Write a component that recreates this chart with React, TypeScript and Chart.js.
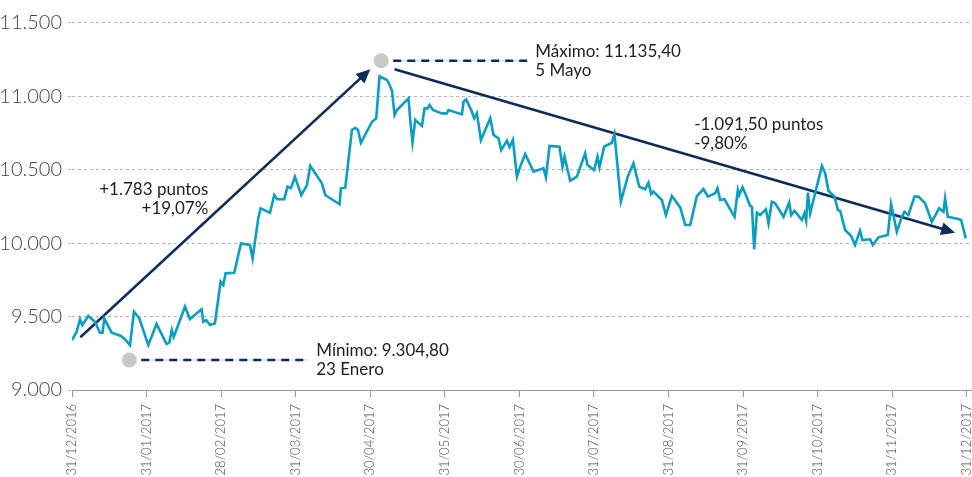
import React, { useEffect, useRef } from "react";
import { Chart, registerables } from "chart.js";

Chart.register(...registerables);

// ---------- DATA ----------
const xTickLabels = [
  "31/12/2016", "31/01/2017", "28/02/2017", "31/03/2017", "30/04/2017", "31/05/2017",
  "30/06/2017", "31/07/2017", "31/08/2017", "31/09/2017", "31/10/2017", "31/11/2017", "31/12/2017",
];
const yTickValues = [9000, 9500, 10000, 10500, 11000, 11500];
const yTickLabels = ["9.000", "9.500", "10.000", "10.500", "11.000", "11.500"];

// position in months since 31/12/2016
const monthPos = [
  0.0, 0.062, 0.107, 0.138, 0.219, 0.308, 0.375, 0.41, 0.433, 0.531,
  0.657, 0.711, 0.778, 0.831, 0.902, 1.023, 1.134, 1.268, 1.305, 1.338,
  1.365, 1.515, 1.582, 1.738, 1.761, 1.8, 1.85, 1.917, 1.993, 2.029,
  2.06, 2.176, 2.266, 2.387, 2.422, 2.498, 2.529, 2.655, 2.713, 2.753,
  2.847, 2.891, 2.936, 2.99, 3.017, 3.075, 3.151, 3.195, 3.262, 3.352,
  3.396, 3.588, 3.607, 3.665, 3.754, 3.799, 3.835, 3.875, 4.023, 4.08,
  4.124, 4.224, 4.254, 4.291, 4.326, 4.358, 4.513, 4.536, 4.567, 4.603,
  4.693, 4.728, 4.768, 4.795, 4.84, 4.961, 5.028, 5.05, 5.229, 5.251,
  5.287, 5.363, 5.394, 5.43, 5.484, 5.609, 5.653, 5.72, 5.756, 5.833,
  5.868, 5.913, 5.967, 6.011, 6.078, 6.189, 6.323, 6.356, 6.404, 6.538,
  6.578, 6.605, 6.681, 6.771, 6.882, 6.913, 7.002, 7.047, 7.074, 7.137,
  7.24, 7.275, 7.361, 7.455, 7.53, 7.607, 7.687, 7.731, 7.768, 7.798,
  7.911, 7.965, 8.045, 8.157, 8.224, 8.291, 8.38, 8.469, 8.528, 8.626,
  8.657, 8.693, 8.75, 8.885, 8.93, 8.948, 8.992, 9.028, 9.095, 9.118,
  9.149, 9.185, 9.229, 9.306, 9.341, 9.386, 9.43, 9.542, 9.618, 9.645,
  9.689, 9.788, 9.823, 9.846, 9.869, 9.9, 10.057, 10.101, 10.145, 10.226,
  10.271, 10.302, 10.369, 10.449, 10.501, 10.568, 10.601, 10.704, 10.74, 10.815,
  10.941, 10.985, 11.062, 11.129, 11.164, 11.217, 11.298, 11.351, 11.441, 11.531,
  11.629, 11.687, 11.709, 11.745, 11.887, 11.924, 11.987,
];

const ibexValues = [
  9340, 9397, 9481, 9442, 9504, 9465, 9390, 9390, 9488, 9390,
  9368, 9345, 9305, 9533, 9488, 9306, 9449, 9313, 9322, 9408,
  9361, 9567, 9483, 9549, 9465, 9476, 9442, 9454, 9737, 9715,
  9794, 9798, 9998, 9987, 9896, 10169, 10237, 10207, 10327, 10298,
  10298, 10384, 10373, 10452, 10411, 10327, 10395, 10525, 10475, 10407,
  10327, 10264, 10373, 10377, 10770, 10785, 10770, 10683, 10826, 10849,
  11135, 11110, 11083, 11037, 10872, 10906, 10985, 10838, 10686, 10838,
  10797, 10917, 10917, 10940, 10906, 10883, 10883, 10906, 10876, 10962,
  10978, 10894, 10849, 10883, 10702, 10849, 10736, 10713, 10633, 10697,
  10652, 10702, 10452, 10520, 10606, 10486, 10509, 10448, 10661, 10656,
  10520, 10588, 10424, 10452, 10611, 10531, 10497, 10588, 10516, 10656,
  10683, 10742, 10282, 10456, 10543, 10384, 10366, 10411, 10334, 10350,
  10293, 10191, 10320, 10243, 10123, 10123, 10320, 10368, 10316, 10339,
  10373, 10293, 10298, 10179, 10361, 10327, 10380, 10339, 10252, 10248,
  9958, 10207, 10191, 10230, 10135, 10282, 10271, 10179, 10275, 10191,
  10220, 10157, 10203, 10152, 10343, 10203, 10525, 10475, 10356, 10316,
  10225, 10220, 10089, 10048, 9987, 10084, 10021, 10026, 9987, 10039,
  10055, 10266, 10077, 10179, 10213, 10191, 10316, 10316, 10271, 10145,
  10237, 10213, 10305, 10179, 10164, 10157, 10032,
];

// ---------- ANNOTATIONS (data coordinates) ----------
const minMarker = { m: 0.768, v: 9204 };
const maxMarker = { m: 4.147, v: 11241 };
const minDashEnd = 3.168;
const maxDashEnd = 6.105;
const minLabel = ["Mínimo: 9.304,80", "23 Enero"];
const maxLabel = ["Máximo: 11.135,40", "5 Mayo"];
const upArrow = { from: [0.112, 9359], to: [4.0, 11183] };
const downArrow = { from: [4.326, 11183], to: [11.843, 10071] };
const upLabel = ["+1.783 puntos", "+19,07%"];
const upLabelAnchor = { m: 1.828, v: 10365 };
const downLabel = ["-1.091,50 puntos", "-9,80%"];
const downLabelAnchor = { m: 8.344, v: 10804 };

const NAVY = "#0c2d5a";
const TEAL = "#0a9ec2";
const FONT = "Lato, 'Open Sans', sans-serif";

function drawArrow(ctx: CanvasRenderingContext2D, x1: number, y1: number, x2: number, y2: number) {
  const ang = Math.atan2(y2 - y1, x2 - x1);
  const headLen = 14;
  const headHalf = 6.5;
  const bx = x2 - headLen * Math.cos(ang);
  const by = y2 - headLen * Math.sin(ang);
  ctx.save();
  ctx.strokeStyle = NAVY;
  ctx.fillStyle = NAVY;
  ctx.lineWidth = 2.6;
  ctx.beginPath();
  ctx.moveTo(x1, y1);
  ctx.lineTo(bx + 2 * Math.cos(ang), by + 2 * Math.sin(ang));
  ctx.stroke();
  ctx.beginPath();
  ctx.moveTo(x2, y2);
  ctx.lineTo(bx + headHalf * Math.sin(ang), by - headHalf * Math.cos(ang));
  ctx.lineTo(bx - headHalf * Math.sin(ang), by + headHalf * Math.cos(ang));
  ctx.closePath();
  ctx.fill();
  ctx.restore();
}

function drawMarker(ctx: CanvasRenderingContext2D, cx: number, cy: number, dashEndX: number, lines: string[]) {
  ctx.save();
  ctx.fillStyle = "#c8c8c8";
  ctx.beginPath();
  ctx.arc(cx, cy, 7.5, 0, Math.PI * 2);
  ctx.fill();
  ctx.strokeStyle = "#d4d4d4";
  ctx.lineWidth = 1;
  ctx.beginPath();
  ctx.moveTo(cx + 12, cy);
  ctx.lineTo(dashEndX, cy);
  ctx.stroke();
  ctx.strokeStyle = NAVY;
  ctx.lineWidth = 2.6;
  ctx.setLineDash([8, 6]);
  ctx.beginPath();
  ctx.moveTo(cx + 12, cy);
  ctx.lineTo(dashEndX, cy);
  ctx.stroke();
  ctx.setLineDash([]);
  ctx.fillStyle = "#1e1e1e";
  ctx.font = `17px ${FONT}`;
  ctx.textAlign = "left";
  ctx.textBaseline = "middle";
  ctx.fillText(lines[0], dashEndX + 8, cy - 9.5);
  ctx.fillText(lines[1], dashEndX + 8, cy + 9.5);
  ctx.restore();
}

const annotationPlugin = {
  id: "ibexAnnotations",
  beforeDatasetsDraw(chart: any) {
    const { ctx, scales } = chart;
    const xs = scales.x;
    const ys = scales.y;
    drawArrow(ctx, xs.getPixelForValue(upArrow.from[0]), ys.getPixelForValue(upArrow.from[1]),
      xs.getPixelForValue(upArrow.to[0]), ys.getPixelForValue(upArrow.to[1]));
    drawArrow(ctx, xs.getPixelForValue(downArrow.from[0]), ys.getPixelForValue(downArrow.from[1]),
      xs.getPixelForValue(downArrow.to[0]), ys.getPixelForValue(downArrow.to[1]));
  },
  afterDatasetsDraw(chart: any) {
    const { ctx, scales } = chart;
    const xs = scales.x;
    const ys = scales.y;
    drawMarker(ctx, xs.getPixelForValue(minMarker.m), ys.getPixelForValue(minMarker.v),
      xs.getPixelForValue(minDashEnd), minLabel);
    drawMarker(ctx, xs.getPixelForValue(maxMarker.m), ys.getPixelForValue(maxMarker.v),
      xs.getPixelForValue(maxDashEnd), maxLabel);
    ctx.save();
    ctx.fillStyle = "#1e1e1e";
    ctx.font = `17px ${FONT}`;
    ctx.textBaseline = "middle";
    ctx.textAlign = "right";
    const ux = xs.getPixelForValue(upLabelAnchor.m);
    const uy = ys.getPixelForValue(upLabelAnchor.v);
    ctx.fillText(upLabel[0], ux, uy);
    ctx.fillText(upLabel[1], ux, uy + 19);
    ctx.textAlign = "left";
    const dx = xs.getPixelForValue(downLabelAnchor.m);
    const dy = ys.getPixelForValue(downLabelAnchor.v);
    ctx.fillText(downLabel[0], dx, dy);
    ctx.fillText(downLabel[1], dx, dy + 19);
    ctx.restore();
  },
};

export default function App() {
  const canvasRef = useRef<HTMLCanvasElement | null>(null);

  useEffect(() => {
    if (!canvasRef.current) return;
    const data = monthPos.map((m, i) => ({ x: m, y: ibexValues[i] }));
    const chart = new Chart(canvasRef.current, {
      type: "line",
      data: {
        datasets: [
          {
            data,
            borderColor: TEAL,
            borderWidth: 2.6,
            pointRadius: 0,
            tension: 0,
            fill: false,
          },
        ],
      },
      options: {
        animation: false,
        responsive: false,
        maintainAspectRatio: false,
        layout: { padding: { top: 22.7, left: 0, right: 0, bottom: 0 } },
        plugins: { legend: { display: false }, tooltip: { enabled: false } },
        scales: {
          x: {
            type: "linear",
            min: 0,
            max: 12.07,
            afterFit: (s: any) => {
              s.height = 87;
              s.paddingLeft = 0;
              s.paddingRight = 0;
            },
            afterBuildTicks: (s: any) => {
              s.ticks = xTickLabels.map((_, i) => ({ value: i }));
            },
            ticks: {
              autoSkip: false,
              minRotation: 90,
              maxRotation: 90,
              padding: 7,
              color: "#4a4a4a",
              font: { family: FONT, size: 13, weight: "300" },
              callback: (v: any) => xTickLabels[Math.round(Number(v))] ?? "",
            },
            grid: {
              display: true,
              drawOnChartArea: false,
              drawTicks: true,
              tickLength: 7,
              color: "#999",
            },
            border: { display: true, color: "#999", width: 1 },
          },
          y: {
            min: 9000,
            max: 11500,
            afterFit: (s: any) => {
              s.width = 72;
            },
            afterBuildTicks: (s: any) => {
              s.ticks = yTickValues.map((v) => ({ value: v }));
            },
            ticks: {
              padding: 6,
              color: "#444",
              font: { family: FONT, size: 20, weight: "300" },
              callback: (v: any) => {
                const i = yTickValues.indexOf(Number(v));
                return i >= 0 ? yTickLabels[i] : "";
              },
            },
            grid: {
              color: (c: any) => (c.tick && c.tick.value === 9000 ? "rgba(0,0,0,0)" : "#b5b5b5"),
              tickLength: 4,
              tickColor: "#b5b5b5",
              tickBorderDash: [3, 3],
            },
            border: { display: false, dash: [3, 3] },
          },
        },
      },
      plugins: [annotationPlugin],
    });
    return () => chart.destroy();
  }, []);

  return (
    <div style={{ position: "fixed", left: 0, top: 0, width: 972, height: 477, overflow: "hidden", background: "#fff" }}>
      <canvas ref={canvasRef} width={972} height={477} style={{ width: 972, height: 477, display: "block" }} />
    </div>
  );
}
